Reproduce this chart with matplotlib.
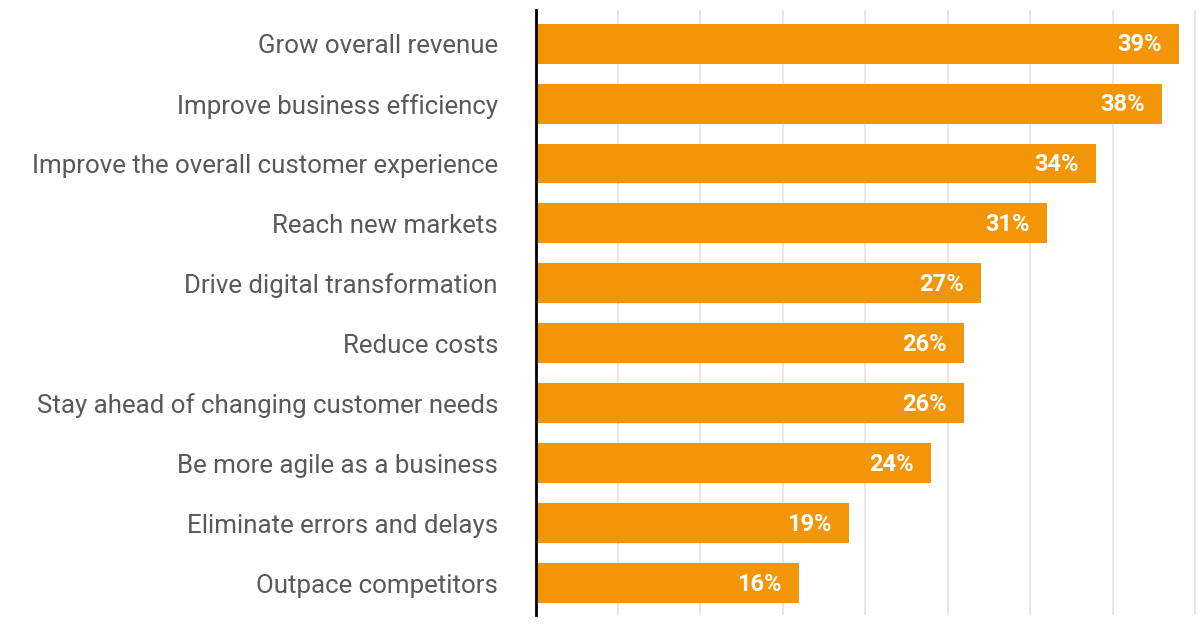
import matplotlib.pyplot as plt

categories = ['Grow overall revenue', 'Improve business efficiency',
              'Improve the overall customer experience', 'Reach new markets',
              'Drive digital transformation', 'Reduce costs',
              'Stay ahead of changing customer needs', 'Be more agile as a business',
              'Eliminate errors and delays', 'Outpace competitors']
values = [39, 38, 34, 31, 27, 26, 26, 24, 19, 16]

bar_color = '#F29507'

fig = plt.figure(figsize=(12, 6.28), dpi=100)
ax = fig.add_axes([535.5 / 1200, 13 / 628, 1 - 535.5 / 1200, 605 / 628])

ypos = list(range(len(categories)))
ax.barh(ypos, values, height=0.667, color=bar_color, zorder=2)

for y, v in zip(ypos, values):
    ax.text(v - 1.05, y + 0.02, f'{v}%', ha='right', va='center', color='white',
            fontsize=17, fontweight='bold', family='Roboto', zorder=3)

ax.set_xlim(0, 40.3)
ax.set_ylim(9.53, -0.56)
ax.set_xticks(range(5, 41, 5))
ax.xaxis.grid(True, color='#e3e3e3', linewidth=1.2, zorder=0)
ax.tick_params(axis='x', length=0, labelbottom=False)
ax.tick_params(axis='y', length=0, pad=27)
ax.set_yticks(ypos)
ax.set_yticklabels(categories, fontsize=18.6, color='#595959', family='Roboto')
for lbl in ax.get_yticklabels():
    lbl.set_va('center_baseline')

for s in ['top', 'right', 'bottom']:
    ax.spines[s].set_visible(False)
ax.spines['left'].set_color('black')
ax.spines['left'].set_linewidth(2)
ax.spines['left'].set_zorder(4)

fig.savefig('out.png', dpi=100)
